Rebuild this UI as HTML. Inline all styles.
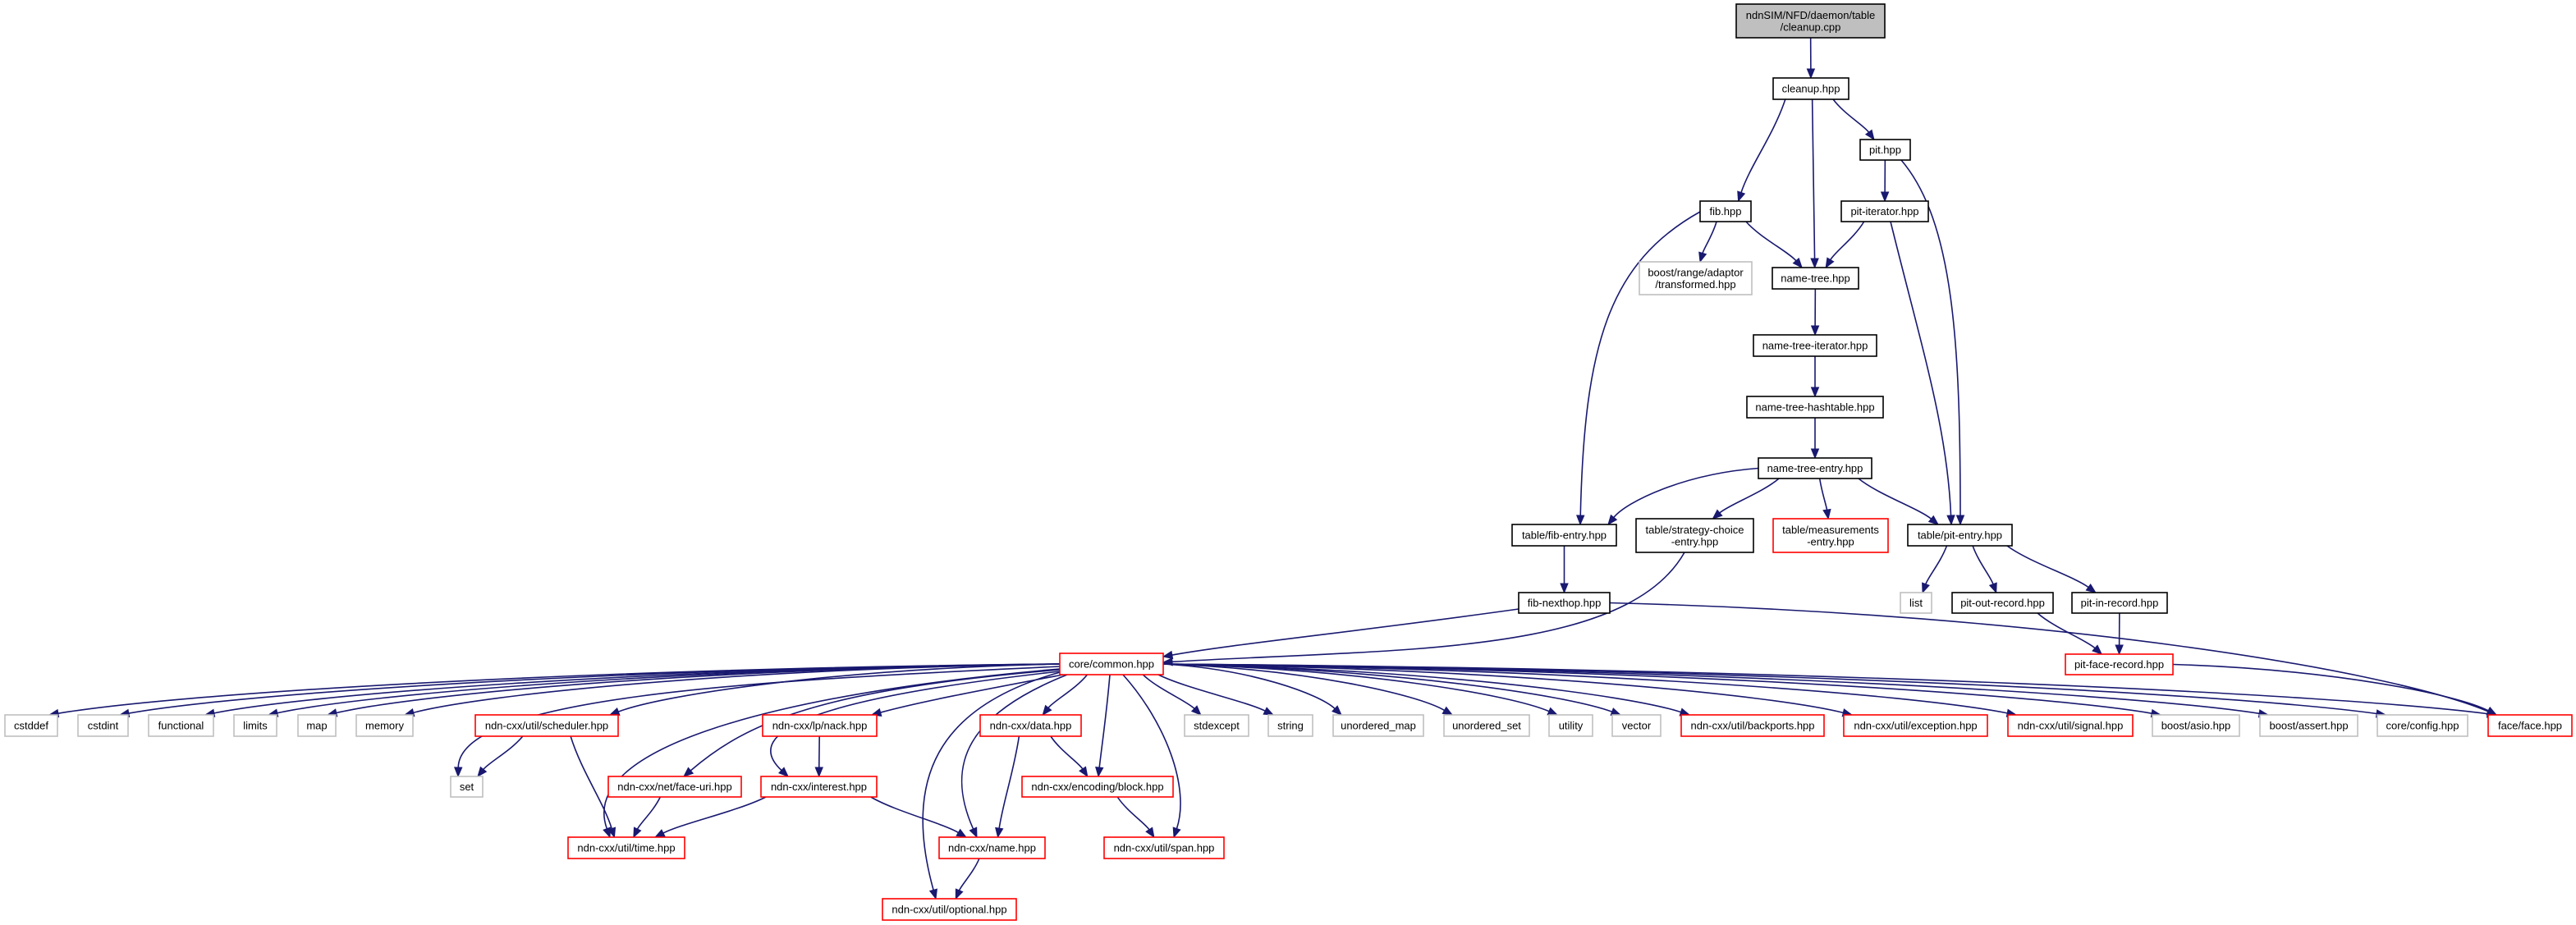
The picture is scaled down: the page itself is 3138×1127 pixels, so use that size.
<!DOCTYPE html>
<html><head><meta charset="utf-8"><style>
html,body{margin:0;padding:0;background:#fff;width:3138px;height:1127px;overflow:hidden}
svg{display:block}
text{font-family:"Liberation Sans",sans-serif;font-size:13px;fill:#000;text-anchor:middle}
</style></head><body>
<svg id="g" width="3138" height="1127" xmlns="http://www.w3.org/2000/svg">
<g id="edges"></g>
<g id="nodes"></g>
</svg>
<script>
var N={
root:[2115,5,2296,46,'f',['ndnSIM/NFD/daemon/table','/cleanup.cpp']],
cleanup:[2160,95,2252,121,'b',['cleanup.hpp']],
pit:[2266,170,2327,195,'b',['pit.hpp']],
fib:[2071,245,2133,270,'b',['fib.hpp']],
pitit:[2243,245,2349,270,'b',['pit-iterator.hpp']],
boostr:[1997,319,2134,359,'g',['boost/range/adaptor','/transformed.hpp']],
nt:[2159,326,2264,352,'b',['name-tree.hpp']],
nti:[2136,408,2286,434,'b',['name-tree-iterator.hpp']],
nth:[2128,483,2294,509,'b',['name-tree-hashtable.hpp']],
nte:[2142,558,2280,583,'b',['name-tree-entry.hpp']],
fibe:[1842,639,1969,665,'b',['table/fib-entry.hpp']],
sce:[1993,632,2136,673,'b',['table/strategy-choice','-entry.hpp']],
me:[2160,632,2300,673,'r',['table/measurements','-entry.hpp']],
pite:[2324,639,2451,665,'b',['table/pit-entry.hpp']],
fnh:[1850,722,1961,747,'b',['fib-nexthop.hpp']],
list:[2315,722,2353,747,'g',['list']],
por:[2378,722,2501,747,'b',['pit-out-record.hpp']],
pir:[2524,722,2640,747,'b',['pit-in-record.hpp']],
pfr:[2516,797,2647,822,'r',['pit-face-record.hpp']],
common:[1291,796,1417,822,'r',['core/common.hpp']],
cstddef:[6,871,70,897,'g',['cstddef']],
cstdint:[95,871,156,897,'g',['cstdint']],
functional:[181,871,260,897,'g',['functional']],
limits:[285,871,337,897,'g',['limits']],
map:[363,871,409,897,'g',['map']],
memory:[434,871,503,897,'g',['memory']],
sched:[579,871,753,897,'r',['ndn-cxx/util/scheduler.hpp']],
nack:[929,871,1068,897,'r',['ndn-cxx/lp/nack.hpp']],
data:[1194,871,1317,897,'r',['ndn-cxx/data.hpp']],
stdexcept:[1443,871,1521,897,'g',['stdexcept']],
string:[1545,871,1599,897,'g',['string']],
umap:[1624,871,1734,897,'g',['unordered_map']],
uset:[1759,871,1863,897,'g',['unordered_set']],
utility:[1887,871,1940,897,'g',['utility']],
vector:[1964,871,2023,897,'g',['vector']],
backports:[2048,871,2222,897,'r',['ndn-cxx/util/backports.hpp']],
exception:[2246,871,2421,897,'r',['ndn-cxx/util/exception.hpp']],
signal:[2446,871,2598,897,'r',['ndn-cxx/util/signal.hpp']],
asio:[2622,871,2728,897,'g',['boost/asio.hpp']],
assert:[2753,871,2872,897,'g',['boost/assert.hpp']],
config:[2896,871,3006,897,'g',['core/config.hpp']],
face:[3031,871,3133,897,'r',['face/face.hpp']],
set:[549,946,588,971,'g',['set']],
faceuri:[741,946,903,971,'r',['ndn-cxx/net/face-uri.hpp']],
interest:[927,946,1068,971,'r',['ndn-cxx/interest.hpp']],
block:[1245,946,1429,971,'r',['ndn-cxx/encoding/block.hpp']],
time:[692,1020,834,1046,'r',['ndn-cxx/util/time.hpp']],
name:[1144,1020,1273,1046,'r',['ndn-cxx/name.hpp']],
span:[1345,1020,1491,1046,'r',['ndn-cxx/util/span.hpp']],
optional:[1075,1095,1238,1121,'r',['ndn-cxx/util/optional.hpp']]
};
var E=[['root','cleanup'],['cleanup','fib'],['cleanup','nt'],['cleanup','pit'],['pit','pitit'],
['pit','pite',[2316,195, 2380,270, 2388,420, 2388,639]],
['fib','boostr'],['fib','nt'],
['fib','fibe',[2071,258, 1960,320, 1930,420, 1925,639]],
['pitit','nt'],
['pitit','pite',[2303,270, 2340,420, 2372,520, 2377,639]],
['nt','nti'],['nti','nth'],['nth','nte'],
['nte','fibe'],['nte','sce'],['nte','me'],['nte','pite'],['fibe','fnh'],
['sce','common',[2052,673, 1980,800, 1700,790, 1417,807]],
['fnh','common',[1850,742, 1650,770, 1500,785, 1417,800]],
['fnh','face'],
['pite','list'],['pite','por'],['pite','pir'],['por','pfr'],['pir','pfr'],['pfr','face'],
['sched','set'],['sched','time'],['faceuri','time'],['nack','interest'],['interest','time'],['interest','name'],
['data','name'],['data','block'],['block','span'],['name','optional']];
['cstddef','cstdint','functional','limits','map','memory','sched','data','stdexcept','string','umap','uset','utility','vector','backports','exception','signal','asio','assert','config','face'].forEach(function(t){E.push(['common',t]);});
E.push(['common','set',[1291,812, 900,830, 560,850, 558,946]]);
E.push(['common','time',[1291,815, 1000,840, 700,900, 743,1020]]);
E.push(['common','faceuri',[1291,816, 1000,840, 910,880, 833,946]]);
E.push(['common','interest',[1291,818, 1000,850, 900,890, 960,946]]);
E.push(['common','nack',[1295,822, 1200,840, 1120,855, 1062,871]]);
E.push(['common','name',[1300,822, 1180,870, 1150,930, 1190,1020]]);
E.push(['common','optional',[1295,818, 1140,860, 1100,950, 1140,1095]]);
E.push(['common','block',[1352,822, 1348,870, 1342,910, 1338,946]]);
E.push(['common','span',[1368,822, 1420,880, 1450,960, 1430,1020]]);
var NS='http://www.w3.org/2000/svg';
function el(n,a,p){var e=document.createElementNS(NS,n);for(var k in a)e.setAttribute(k,a[k]);p.appendChild(e);return e;}
var gn=document.getElementById('nodes'),ge=document.getElementById('edges');
for(var id in N){var n=N[id];var st=n[4];
 var stroke=st=='r'?'#ff0000':(st=='g'?'#bfbfbf':'#000');
 el('rect',{x:n[0],y:n[1],width:n[2]-n[0],height:n[3]-n[1],fill:st=='f'?'#bfbfbf':'#fff',stroke:stroke,'stroke-width':1.6},gn);
 var cx=(n[0]+n[2])/2,L=n[5];
 if(L.length==1){var t=el('text',{x:cx,y:(n[1]+n[3])/2+4.5},gn);t.textContent=L[0];}
 else{var cy=(n[1]+n[3])/2;var t1=el('text',{x:cx,y:cy-2.5},gn);t1.textContent=L[0];var t2=el('text',{x:cx,y:cy+12},gn);t2.textContent=L[1];}
}
function cl(v,m){return Math.max(-m,Math.min(m,v));}
E.forEach(function(e){var s=N[e[0]],t=N[e[1]];
 var scx=(s[0]+s[2])/2,tcx=(t[0]+t[2])/2,sw=s[2]-s[0],tw=t[2]-t[0];
 var dy=t[1]-s[3],dx=tcx-scx,sx,sy,ex,ey,c1,c2;
 if(e[2]){var p=e[2];sx=p[0];sy=p[1];c1=[p[2],p[3]];c2=[p[4],p[5]];ex=p[6];ey=p[7];}
 else if(Math.abs(dx)>5*Math.max(dy,10)){
  sx=dx<0?s[0]:s[2];sy=(s[1]+s[3])/2;
  ex=dx<0?t[2]-Math.min(10,tw/4):t[0]+Math.min(10,tw/4);ey=t[1];
  c1=[sx+(ex-sx)*0.5,sy+(ey-sy)*0.1];c2=[ex+(sx-ex)*0.12,ey-(ey-sy)*0.4];
 }else{
  sx=scx+cl(dx*0.3,sw/2-6);sy=s[3];ex=tcx+cl(-dx*0.15,tw/2-6);ey=t[1];
  c1=[sx+(ex-sx)*0.25,sy+(ey-sy)*0.35];c2=[ex-(ex-sx)*0.25,ey-(ey-sy)*0.35];
 }
 var vx=ex-c2[0],vy=ey-c2[1],l=Math.sqrt(vx*vx+vy*vy)||1;vx/=l;vy/=l;
 var bx=ex-vx*11,by=ey-vy*11;
 el('path',{d:'M'+sx+','+sy+' C'+c1[0]+','+c1[1]+' '+c2[0]+','+c2[1]+' '+bx+','+by,fill:'none',stroke:'#191970','stroke-width':1.6},ge);
 var px=-vy*4.5,py=vx*4.5;
 el('polygon',{points:ex+','+ey+' '+(bx+px)+','+(by+py)+' '+(bx-px)+','+(by-py),fill:'#191970',stroke:'#191970'},ge);
});
</script>
</body></html>
